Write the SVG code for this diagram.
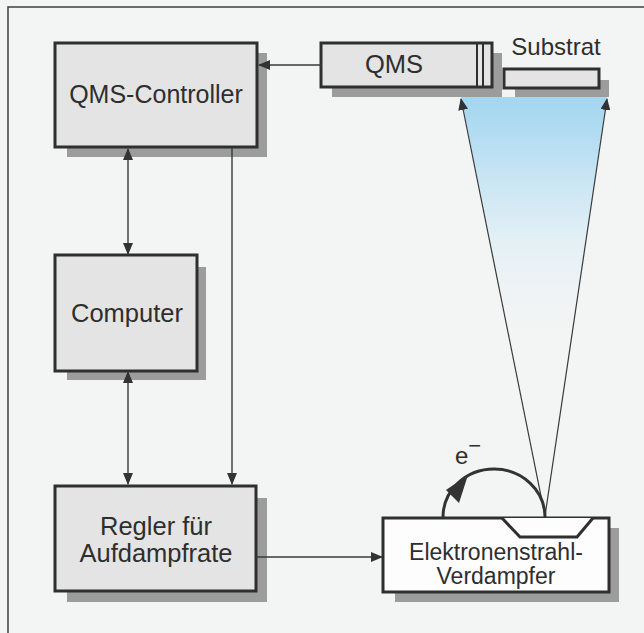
<svg xmlns="http://www.w3.org/2000/svg" width="644" height="633" viewBox="0 0 644 633">
<defs>
<style>
.bg{fill:#f3f4f4}
.frame{fill:none;stroke:#4a4a4a;stroke-width:1.6}
.shadow{fill:#9c9c9c}
.box{fill:#e4e4e4;stroke:#2f2f2f;stroke-width:3}
.wbox{fill:#fdfdfd;stroke:#2f2f2f;stroke-width:3}
.t{font-family:"Liberation Sans",Arial,sans-serif;fill:#2e2e2e;text-anchor:middle}
.conn{fill:none;stroke:#3a3a3a;stroke-width:1.4}
.ray{fill:none;stroke:#3a3a3a;stroke-width:1.2}
</style>
<marker id="ah" viewBox="0 0 12 10" refX="11" refY="5" markerWidth="12" markerHeight="10" markerUnits="userSpaceOnUse" orient="auto-start-reverse">
<path d="M0,0 L12,5 L0,10 Z" fill="#333"/>
</marker>
<linearGradient id="cone" x1="0" y1="0" x2="0" y2="1" gradientUnits="objectBoundingBox">
<stop offset="0" stop-color="#a3d6f0"/>
<stop offset="0.15" stop-color="#bfe1f3"/>
<stop offset="0.35" stop-color="#e0eff6" stop-opacity="0.8"/>
<stop offset="0.6" stop-color="#f3f4f4" stop-opacity="0"/>
</linearGradient>
</defs>
<rect class="bg" x="0" y="0" width="644" height="633"/>
<rect class="frame" x="8" y="7" width="660" height="660"/>

<g id="cone-fill">
<polygon points="461,97 607,97 545,515" fill="url(#cone)"/>
</g>

<g id="qms-controller">
<rect class="shadow" x="67" y="53" width="200" height="104"/>
<rect class="box" x="55" y="43" width="202" height="104"/>
<text class="t" x="156" y="103" font-size="25">QMS-Controller</text>
</g>

<g id="computer">
<rect class="shadow" x="67" y="267" width="139" height="113"/>
<rect class="box" x="55" y="255" width="142" height="116"/>
<text class="t" x="127" y="322" font-size="25.5">Computer</text>
</g>

<g id="regler">
<rect class="shadow" x="67" y="498" width="200" height="104"/>
<rect class="box" x="55" y="486" width="201" height="105"/>
<text class="t" x="156" y="535" font-size="25.5">Regler für</text>
<text class="t" x="156" y="562" font-size="25.5">Aufdampfrate</text>
</g>

<g id="verdampfer">
<rect class="shadow" x="395" y="528" width="224" height="74"/>
<rect class="wbox" x="383" y="518" width="226" height="74"/>
<path d="M502,518 L520,537 L577,537 L593,518" fill="#fdfdfd" stroke="#2f2f2f" stroke-width="3"/>
<text class="t" x="496" y="560" font-size="23">Elektronenstrahl-</text>
<text class="t" x="496" y="584" font-size="23">Verdampfer</text>
</g>

<g id="qms">
<rect class="shadow" x="332" y="53" width="170" height="44"/>
<rect class="box" x="321" y="43" width="171" height="44" stroke-width="2.5"/>
<line x1="477" y1="43" x2="477" y2="87" stroke="#2f2f2f" stroke-width="2"/>
<line x1="483" y1="43" x2="483" y2="87" stroke="#2f2f2f" stroke-width="2"/>
<text class="t" x="394" y="73" font-size="25.5">QMS</text>
</g>

<g id="substrat">
<rect class="shadow" x="515" y="80" width="94" height="17"/>
<rect class="box" x="504" y="69" width="95" height="19" stroke-width="2.5"/>
<text class="t" x="556" y="55" font-size="24">Substrat</text>
</g>

<g id="connectors">
<line class="conn" x1="321" y1="65" x2="259" y2="65" marker-end="url(#ah)"/>
<line class="conn" x1="128" y1="149" x2="128" y2="254" marker-start="url(#ah)" marker-end="url(#ah)"/>
<line class="conn" x1="128" y1="372" x2="128" y2="484" marker-start="url(#ah)" marker-end="url(#ah)"/>
<line class="conn" x1="232" y1="148" x2="232" y2="484" marker-end="url(#ah)"/>
<line class="conn" x1="256" y1="557" x2="382" y2="557" marker-end="url(#ah)"/>
<line class="ray" x1="545" y1="516" x2="461" y2="99" marker-end="url(#ah)"/>
<line class="ray" x1="545" y1="516" x2="607" y2="99" marker-end="url(#ah)"/>
<path d="M443,517 A51,48 0 0 1 545,517" fill="none" stroke="#333" stroke-width="3"/>
<polygon points="468,475 446,490 459,503" fill="#333"/>
</g>

<g id="label-e">
<text x="455" y="464" font-family="'Liberation Sans',Arial,sans-serif" font-size="24" fill="#2e2e2e">e<tspan font-size="22" dy="-11">−</tspan></text>
</g>
</svg>
